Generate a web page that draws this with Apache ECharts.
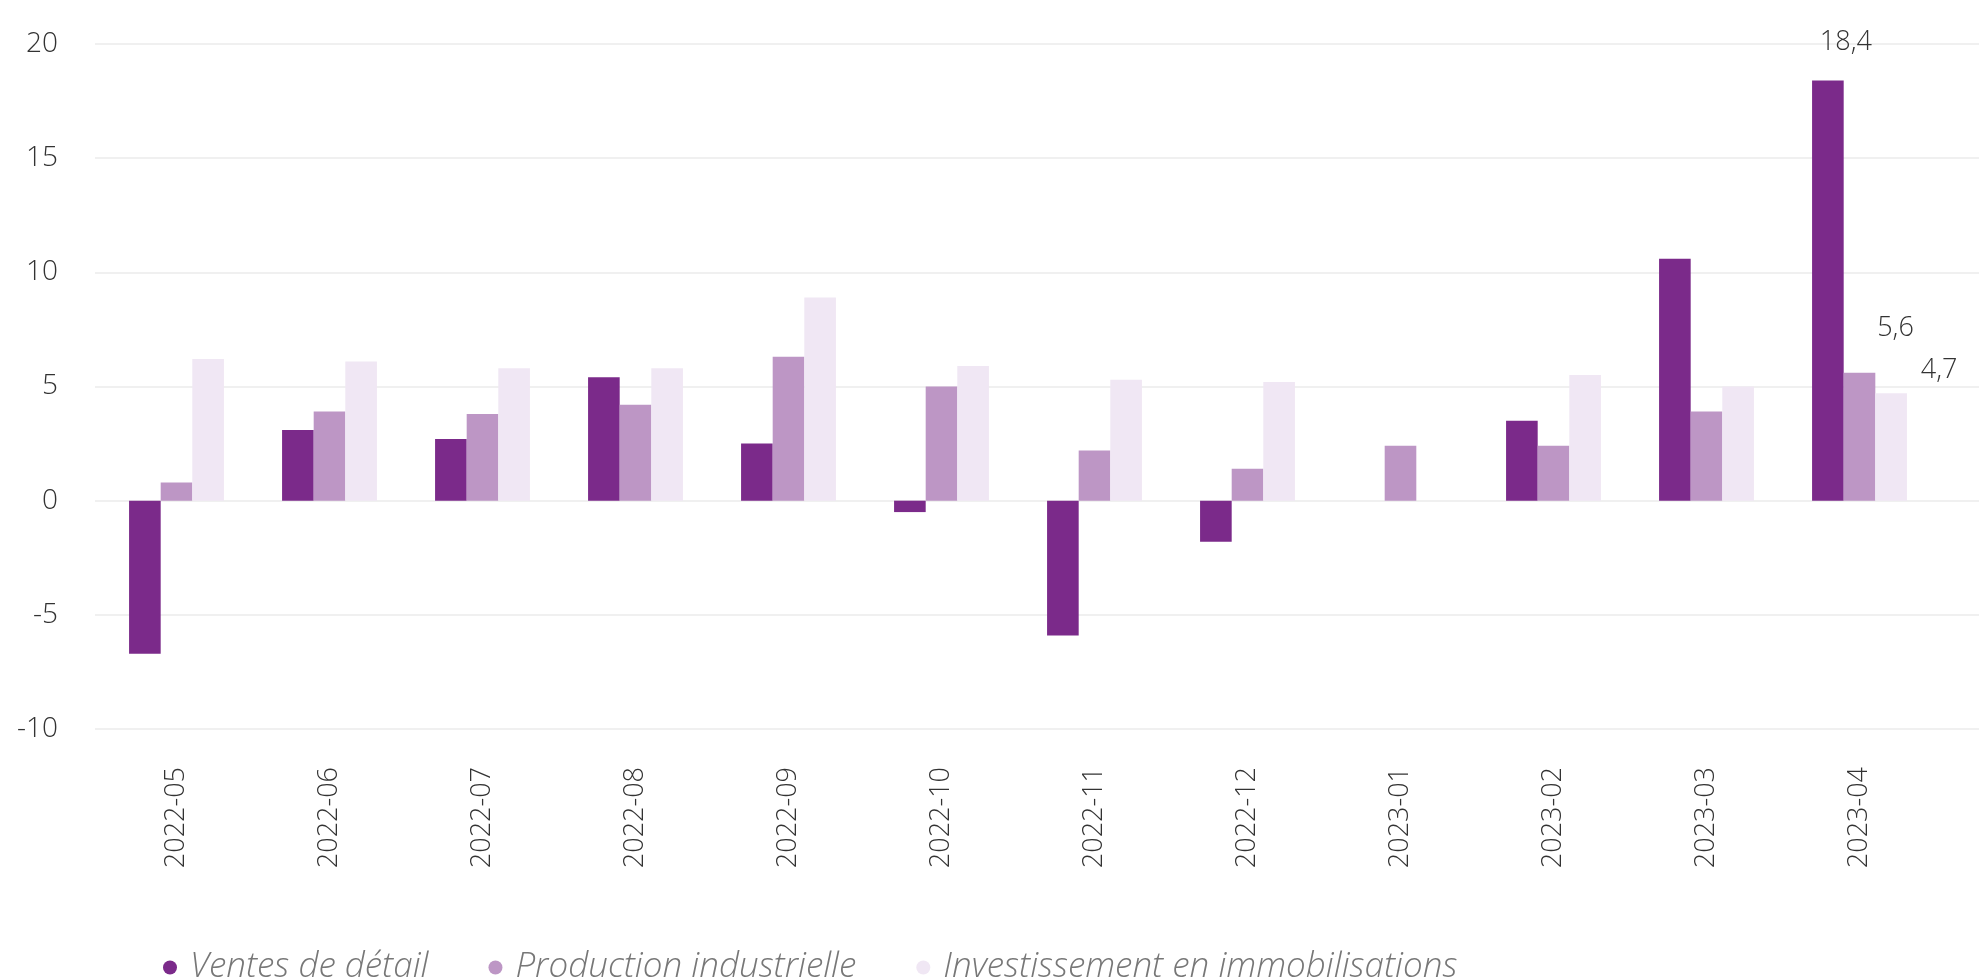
<!DOCTYPE html>
<html>
<head>
<meta charset="utf-8">
<script src="https://cdn.jsdelivr.net/npm/echarts@6/dist/echarts.min.js"></script>
<style>
	html, body { margin: 0; padding: 0; background: #fff; }
	#chart { width: 1979px; height: 980px; }
</style>
</head>
<body>
<div id="chart"></div>
<script>
	// données
	var months = ['2022-05', '2022-06', '2022-07', '2022-08', '2022-09', '2022-10',
		'2022-11', '2022-12', '2023-01', '2023-02', '2023-03', '2023-04'];
	var ventes = [-6.7, 3.1, 2.7, 5.4, 2.5, -0.5, -5.9, -1.8, null, 3.5, 10.6, 18.4];
	var production = [0.8, 3.9, 3.8, 4.2, 6.3, 5.0, 2.2, 1.4, 2.4, 2.4, 3.9, 5.6];
	var investissement = [6.2, 6.1, 5.8, 5.8, 8.9, 5.9, 5.3, 5.2, null, 5.5, 5.0, 4.7];
	var yTicks = [-10, -5, 0, 5, 10, 15, 20];

	var font = '"Open Sans", sans-serif';
	var last = months.length - 1;

	// seul le dernier point porte une étiquette
	function withLastLabel(values, offset) {
		return values.map(function (v, i) {
			if (i !== last) return v;
			return {
				value: v,
				label: {
					show: true,
					position: 'top',
					offset: offset,
					color: '#333',
					fontFamily: font,
					fontWeight: 300,
					fontSize: 27,
					formatter: function (p) {
						return String(p.value).replace('.', ',');
					}
				}
			};
		});
	}

	var myChart = echarts.init(document.getElementById('chart'));
	myChart.setOption({
		animation: false,
		textStyle: { fontFamily: font },
		grid: [
			{ left: 95, right: 0, top: 44, bottom: 251 },  // lignes de fond
			{ left: 100, right: 43, top: 44, bottom: 251 }
		],
		legend: {
			data: ['Ventes de détail', 'Production industrielle', 'Investissement en immobilisations'],
			left: 158,
			top: 945,
			icon: 'circle',
			itemWidth: 30,
			itemHeight: 14,
			itemGap: 60,
			textStyle: {
				color: '#777',
				fontStyle: 'italic',
				fontWeight: 300,
				fontSize: 35,
				fontFamily: font
			}
		},
		xAxis: [{
			gridIndex: 0,
			type: 'value',
			show: false,
			min: 0,
			max: 1
		}, {
			gridIndex: 1,
			type: 'category',
			data: months,
			axisLine: { show: false },
			axisTick: { show: false },
			axisLabel: {
				rotate: 90,
				margin: 38,
				color: '#333',
				fontWeight: 300,
				fontSize: 27
			}
		}],
		yAxis: [{
			gridIndex: 0,
			type: 'value',
			min: yTicks[0],
			max: yTicks[yTicks.length - 1],
			interval: 5,
			axisLine: { show: false },
			axisTick: { show: false },
			axisLabel: {
				margin: 37,
				color: '#333',
				fontWeight: 300,
				fontSize: 28
			},
			splitLine: { lineStyle: { color: '#ebebeb', width: 1.5 } }
		}, {
			gridIndex: 1,
			type: 'value',
			min: yTicks[0],
			max: yTicks[yTicks.length - 1],
			interval: 5,
			show: false,
			splitLine: { show: false }
		}],
		series: [{
			name: 'Ventes de détail',
			type: 'bar',
			xAxisIndex: 1,
			yAxisIndex: 1,
			data: withLastLabel(ventes, [18, -20]),
			itemStyle: { color: '#7b2a8a' },
			barGap: '0%',
			barCategoryGap: '38%'
		}, {
			name: 'Production industrielle',
			type: 'bar',
			xAxisIndex: 1,
			yAxisIndex: 1,
			data: withLastLabel(production, [36, -26]),
			itemStyle: { color: '#bd96c5' }
		}, {
			name: 'Investissement en immobilisations',
			type: 'bar',
			xAxisIndex: 1,
			yAxisIndex: 1,
			data: withLastLabel(investissement, [48, -5]),
			itemStyle: { color: '#f0e7f4' }
		}]
	});
</script>
</body>
</html>
